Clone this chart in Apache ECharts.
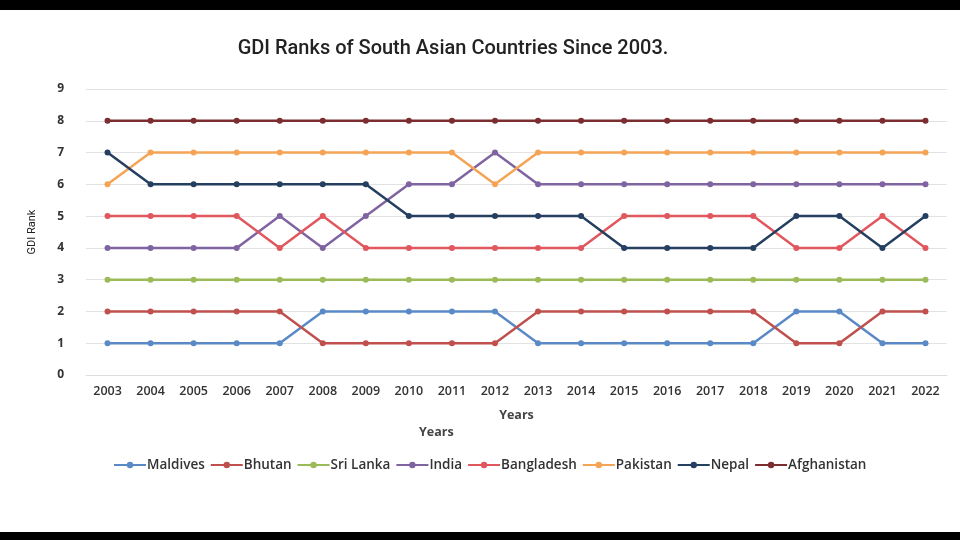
<!DOCTYPE html>
<html>
<head>
<meta charset="utf-8">
<script src="https://cdn.jsdelivr.net/npm/echarts@6/dist/echarts.min.js"></script>
<style>
  html, body { margin: 0; padding: 0; background: #000; }
  #chart { position: absolute; left: 0; top: 10px; width: 960px; height: 522px; background: #fff; }
</style>
</head>
<body>
<div id="chart"></div>
<script>
// years on the x axis
const years = ['2003','2004','2005','2006','2007','2008','2009','2010','2011','2012',
               '2013','2014','2015','2016','2017','2018','2019','2020','2021','2022'];

// GDI rank per country
const maldives    = [1,1,1,1,1,2,2,2,2,2,1,1,1,1,1,1,2,2,1,1];
const bhutan      = [2,2,2,2,2,1,1,1,1,1,2,2,2,2,2,2,1,1,2,2];
const sriLanka    = [3,3,3,3,3,3,3,3,3,3,3,3,3,3,3,3,3,3,3,3];
const india       = [4,4,4,4,5,4,5,6,6,7,6,6,6,6,6,6,6,6,6,6];
const bangladesh  = [5,5,5,5,4,5,4,4,4,4,4,4,5,5,5,5,4,4,5,4];
const pakistan    = [6,7,7,7,7,7,7,7,7,6,7,7,7,7,7,7,7,7,7,7];
const nepal       = [7,6,6,6,6,6,6,5,5,5,5,5,4,4,4,4,5,5,4,5];
const afghanistan = [8,8,8,8,8,8,8,8,8,8,8,8,8,8,8,8,8,8,8,8];

const countries = ['Maldives','Bhutan','Sri Lanka','India','Bangladesh','Pakistan','Nepal','Afghanistan'];
const values = [maldives, bhutan, sriLanka, india, bangladesh, pakistan, nepal, afghanistan];
const colors = ['#5a8ac6','#c0504d','#9bbb59','#8064a2','#e0575e','#f5a455','#243f60','#7b2d2f'];

const chart = echarts.init(document.getElementById('chart'));

chart.setOption({
  color: colors,
  title: {
    text: 'GDI Ranks of South Asian Countries Since 2003.',
    left: 448, textAlign: 'center', top: 24,
    textStyle: { fontFamily: 'Roboto', fontWeight: 500, fontSize: 20, color: '#222' }
  },
  grid: { left: 86, right: 13, top: 79, bottom: 157 },
  legend: {
    data: countries,
    bottom: 55,
    left: 108,
    itemWidth: 32, itemHeight: 8, itemGap: 5,
    textStyle: { fontFamily: 'Open Sans', fontSize: 13.5, fontWeight: 600, color: '#333', padding: [0, 0, 0, -4] }
  },
  xAxis: {
    type: 'category',
    data: years,
    boundaryGap: true,
    name: 'Years',
    nameLocation: 'middle',
    nameGap: 34,
    nameTextStyle: { fontFamily: 'Open Sans', fontSize: 12.5, fontWeight: 'bold', color: '#444' },
    axisLine: { lineStyle: { color: '#ddd' } },
    axisTick: { show: false },
    axisLabel: { fontFamily: 'Open Sans', fontSize: 12.5, fontWeight: 600, color: '#333', margin: 10 }
  },
  yAxis: {
    type: 'value',
    min: 0, max: 9, interval: 1,
    name: 'GDI Rank',
    nameLocation: 'middle',
    nameGap: 48,
    nameTextStyle: { fontFamily: 'Roboto', fontSize: 11, color: '#222' },
    axisLine: { show: false },
    axisTick: { show: false },
    axisLabel: { fontFamily: 'Open Sans', fontSize: 12, fontWeight: 'bold', color: '#333', margin: 22 },
    splitLine: { lineStyle: { color: '#e2e2e2' } }
  },
  graphic: [{
    type: 'text',
    left: 419, top: 416,
    style: { text: 'Years', font: 'bold 12.5px "Open Sans"', fill: '#444' }
  }],
  series: countries.map((name, i) => ({
    name: name,
    type: 'line',
    data: values[i],
    symbol: 'circle',
    symbolSize: 6,
    lineStyle: { width: 2.5 },
    emphasis: { disabled: true }
  }))
});
</script>
</body>
</html>
